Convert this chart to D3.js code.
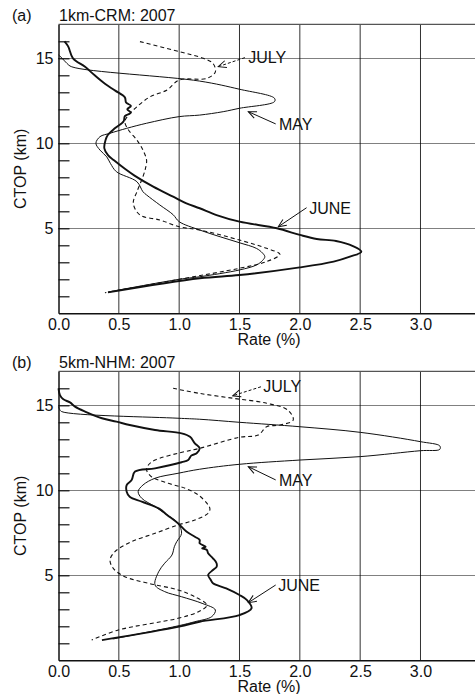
<!DOCTYPE html>
<html>
<head>
<meta charset="utf-8">
<script src="https://cdn.jsdelivr.net/npm/d3@7.9.0/dist/d3.min.js"></script>
<style>
  body { margin: 0; background: #fff; }
  svg text { font-family: "Liberation Sans", Arial, sans-serif; font-size: 16px; fill: #111; }
</style>
</head>
<body>
<svg id="chart" width="475" height="694"></svg>
<script>
// each point is [CTOP (km), rate (%)]
const crmMay = [[15.2,0.0],[15.0,0.03],[14.7,0.07],[14.5,0.11],[13.66,1.17],[13.18,1.5],[12.65,1.79],[12.45,1.79],
  [12.06,1.5],[11.86,1.365],[11.66,1.17],[11.57,1.0],[11.18,0.73],[10.88,0.565],[10.59,0.427],[10.39,0.344],
  [10.0,0.31],[9.6,0.344],[9.2,0.40],[8.82,0.43],[8.33,0.48],[7.74,0.65],[7.15,0.70],[6.96,0.73],[6.37,0.84],
  [5.8,0.95],[5.39,1.0],[4.9,1.17],[4.5,1.34],[4.15,1.5],[3.82,1.64],[3.55,1.69],[3.33,1.71],[3.1,1.69],
  [2.84,1.64],[2.55,1.5],[2.15,1.17],[2.0,1.0],[1.25,0.41]]
const crmJune = [[16.0,0.05],[15.7,0.08],[15.0,0.12],[14.5,0.22],[14.0,0.30],[13.5,0.385],[13.1,0.47],[12.7,0.55],
  [12.4,0.56],[12.2,0.6],[12.0,0.57],[11.8,0.6],[11.6,0.55],[11.3,0.54],[10.9,0.47],[10.5,0.41],[10.2,0.39],
  [9.7,0.38],[9.3,0.41],[9.0,0.46],[8.5,0.55],[8.1,0.63],[7.45,0.785],[6.86,0.95],[6.47,1.06],[6.18,1.17],
  [5.78,1.31],[5.39,1.50],[5.0,1.81],[4.61,2.0],[4.37,2.14],[4.25,2.3],[3.95,2.44],[3.62,2.51],[3.33,2.415],
  [3.04,2.28],[2.7,2.0],[2.25,1.5],[2.06,1.17],[1.23,0.41]]
const crmJuly = [[15.98,0.675],[15.39,1.0],[15.0,1.2],[14.7,1.28],[14.2,1.30],[13.82,1.23],[13.72,1.0],[13.14,0.9],
  [12.74,0.76],[12.15,0.65],[11.66,0.58],[11.27,0.55],[10.78,0.58],[10.19,0.65],[9.6,0.70],[9.0,0.73],[8.5,0.72],
  [8.04,0.70],[7.15,0.65],[6.47,0.62],[5.78,0.675],[5.49,0.84],[5.09,1.0],[4.9,1.17],[4.31,1.5],[3.82,1.725],
  [3.47,1.835],[3.04,1.725],[2.65,1.5],[2.0,1.0],[1.21,0.385]]

const nhmMay = [[14.92,0.0],[14.75,0.01],[14.63,0.026],[14.24,0.99],[14.18,1.17],[14.0,1.5],[13.74,2.0],[13.41,2.5],
  [12.86,3.0],[12.61,3.16],[12.41,3.16],[12.33,3.0],[11.98,2.5],[11.78,2.0],[11.53,1.5],[11.24,1.17],[11.0,0.99],
  [10.71,0.80],[10.31,0.70],[9.92,0.66],[9.53,0.69],[9.04,0.8],[8.65,0.88],[8.06,0.99],[7.47,1.02],[6.98,0.98],
  [6.68,0.96],[6.19,0.94],[5.71,0.88],[5.21,0.83],[4.43,0.80],[4.04,0.88],[3.74,1.02],[3.35,1.19],[2.96,1.30],
  [2.57,1.27],[2.27,1.13],[2.04,1.0],[1.25,0.45]]
const nhmJune = [[16.0,0.0],[15.6,0.012],[15.35,0.04],[15.17,0.095],[14.92,0.137],[14.63,0.22],[14.24,0.36],
  [14.04,0.48],[13.84,0.59],[13.55,0.80],[13.35,1.02],[13.15,1.09],[12.76,1.13],[12.47,1.17],[12.18,1.145],
  [12.04,1.10],[11.78,1.075],[11.65,1.02],[11.29,0.80],[11.1,0.634],[10.6,0.606],[10.31,0.565],[9.92,0.565],
  [9.62,0.59],[9.33,0.69],[8.94,0.83],[8.55,0.90],[8.06,0.99],[7.57,1.06],[7.27,1.13],[7.08,1.17],[6.88,1.17],
  [6.68,1.22],[6.59,1.19],[6.49,1.23],[6.29,1.24],[6.0,1.28],[5.71,1.31],[5.5,1.31],[5.31,1.28],[5.02,1.24],
  [4.75,1.26],[4.53,1.28],[4.23,1.39],[3.84,1.5],[3.55,1.56],[3.06,1.60],[2.66,1.5],[2.27,1.17],[1.98,1.0],[1.19,0.36]]
const nhmJuly = [[16.0,0.95],[15.7,1.17],[15.41,1.45],[15.12,1.725],[14.72,1.90],[14.13,1.945],[13.84,1.835],
  [13.74,1.725],[13.25,1.655],[13.12,1.5],[12.47,1.17],[12.18,0.99],[11.78,0.80],[11.49,0.745],[11.2,0.73],
  [10.8,0.77],[10.41,0.91],[10.12,1.05],[9.72,1.16],[9.14,1.24],[8.9,1.255],[8.65,1.24],[8.25,1.13],[7.96,0.99],
  [7.47,0.80],[6.98,0.606],[6.39,0.468],[5.9,0.427],[5.41,0.454],[4.92,0.55],[4.53,0.745],[4.14,0.99],[3.74,1.13],
  [3.25,1.23],[2.86,1.16],[2.47,0.99],[1.78,0.495],[1.19,0.275]]

const rateTicks = [0, 0.5, 1.0, 1.5, 2.0, 2.5, 3.0]
const ctopTicks = [1,2,3,4,5,6,7,8,9,10,11,12,13,14,15,16]
const ctopLabels = [5, 10, 15]

// month labels: text anchor [rate, ctop], arrow from / to [rate, ctop]
const crmNotes = [
  { label: 'JULY', at: [1.573, 14.72], from: [1.545, 15.04], to: [1.324, 14.51], dashed: true },
  { label: 'MAY',  at: [1.827, 10.78], from: [1.80, 11.14],  to: [1.573, 11.86], dashed: false },
  { label: 'JUNE', at: [2.078, 5.84],  from: [2.056, 6.21],  to: [1.821, 5.09],  dashed: false }
]
const nhmNotes = [
  { label: 'JULY', at: [1.697, 15.76], from: [1.678, 16.09], to: [1.443, 15.56], dashed: true },
  { label: 'MAY',  at: [1.827, 10.25], from: [1.80, 10.61],  to: [1.573, 11.39], dashed: false },
  { label: 'JUNE', at: [1.821, 4.09],  from: [1.80, 4.43],   to: [1.573, 3.39],  dashed: false }
]

const svg = d3.select('#chart')
const ink = '#111'

svg.append('defs').append('marker')
  .attr('id', 'head')
  .attr('viewBox', '-9 -5 10 10')
  .attr('refX', 0).attr('refY', 0)
  .attr('markerWidth', 10).attr('markerHeight', 10)
  .attr('markerUnits', 'userSpaceOnUse')
  .attr('orient', 'auto')
  .append('path')
  .attr('d', 'M-8,-3.5L0,0L-8,3.5')
  .attr('fill', 'none')
  .attr('stroke', ink)
  .attr('stroke-width', 1)

const x = d3.scaleLinear().domain([0, 3.46]).range([58.5, 476])

function drawPanel(top, tag, title, may, june, july, notes) {
  const y = d3.scaleLinear().domain([0, 17]).range([top + 289, top])
  const g = svg.append('g')

  // vertical grid
  g.selectAll('.vgrid').data(rateTicks.filter(d => d > 0)).join('line')
    .attr('x1', d => x(d)).attr('x2', d => x(d))
    .attr('y1', y(0)).attr('y2', y(17))
    .attr('stroke', '#333').attr('stroke-width', 1)

  // dotted grid at labelled heights, snapped to the pixel grid
  g.selectAll('.hgrid').data(ctopLabels).join('line')
    .attr('x1', x(0)).attr('x2', x.range()[1])
    .attr('y1', d => Math.round(y(d)) + 0.5).attr('y2', d => Math.round(y(d)) + 0.5)
    .attr('stroke', '#000').attr('stroke-width', 1)
    .attr('stroke-dasharray', '1,1')

  // top frame
  g.append('line')
    .attr('x1', x(0)).attr('x2', x.range()[1])
    .attr('y1', y(17)).attr('y2', y(17))
    .attr('stroke', '#555').attr('stroke-width', 1.3)

  const xAxis = g.append('g')
    .attr('transform', `translate(0,${y(0)})`)
    .call(d3.axisBottom(x).tickValues(rateTicks).tickSize(0).tickPadding(5).tickFormat(d3.format('.1f')))
  xAxis.select('.domain').attr('stroke', ink).attr('stroke-width', 1.5)
  xAxis.selectAll('text').attr('font-size', 16).attr('fill', ink)

  const yAxis = g.append('g')
    .attr('transform', `translate(${x(0)},0)`)
    .call(d3.axisLeft(y).tickValues(ctopTicks).tickSizeInner(-11).tickSizeOuter(0).tickPadding(5)
      .tickFormat(d => ctopLabels.includes(d) ? d : ''))
  yAxis.select('.domain').attr('stroke', ink).attr('stroke-width', 1.5)
  yAxis.selectAll('.tick line').attr('stroke', ink).attr('stroke-width', 1.2)
  yAxis.selectAll('text').attr('font-size', 16).attr('fill', ink)

  // titles
  g.append('text').attr('x', 12).attr('y', top - 3).text(tag)
  g.append('text').attr('x', 59).attr('y', top - 3).text(title)
  g.append('text').attr('x', 269).attr('y', y(0) + 32).attr('text-anchor', 'middle').text('Rate (%)')
  g.append('text')
    .attr('transform', `translate(26,${(y(0) + y(17)) / 2}) rotate(-90)`)
    .attr('text-anchor', 'middle')
    .text('CTOP (km)')

  const line = d3.line()
    .x(d => x(d[1]))
    .y(d => y(d[0]))
    .curve(d3.curveCatmullRom.alpha(0.5))

  g.append('path').attr('d', line(may)).attr('fill', 'none').attr('stroke', ink).attr('stroke-width', 1)
  g.append('path').attr('d', line(july)).attr('fill', 'none').attr('stroke', ink).attr('stroke-width', 1.1)
    .attr('stroke-dasharray', '4,3')
  g.append('path').attr('d', line(june)).attr('fill', 'none').attr('stroke', ink).attr('stroke-width', 1.9)

  notes.forEach(n => {
    g.append('line')
      .attr('x1', x(n.from[0])).attr('y1', y(n.from[1]))
      .attr('x2', x(n.to[0])).attr('y2', y(n.to[1]))
      .attr('stroke', ink).attr('stroke-width', 1)
      .attr('stroke-dasharray', n.dashed ? '3,2' : null)
      .attr('marker-end', 'url(#head)')
    g.append('text').attr('x', x(n.at[0])).attr('y', y(n.at[1])).text(n.label)
  })
}

drawPanel(24.3, '(a)', '1km-CRM: 2007', crmMay, crmJune, crmJuly, crmNotes)
drawPanel(371.3, '(b)', '5km-NHM: 2007', nhmMay, nhmJune, nhmJuly, nhmNotes)
</script>
</body>
</html>
